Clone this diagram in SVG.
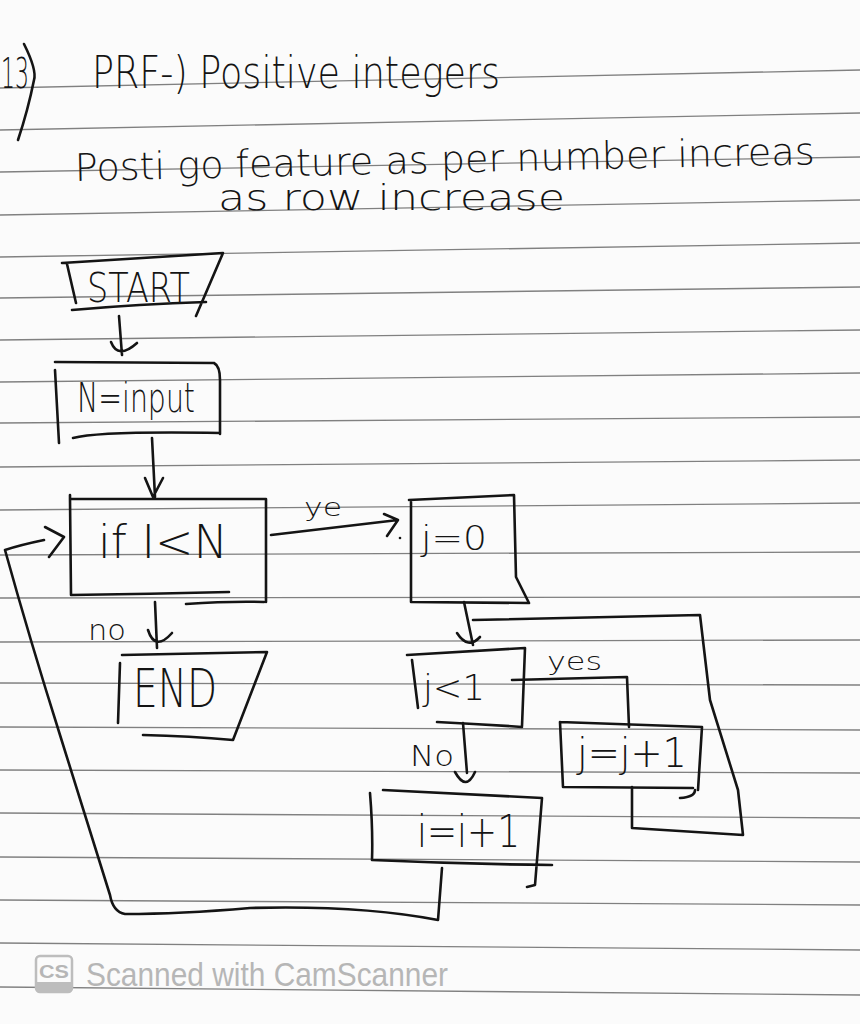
<svg xmlns="http://www.w3.org/2000/svg" width="860" height="1024" viewBox="0 0 860 1024">
<style>
.ink{fill:none;stroke:#141414;stroke-width:2.6;stroke-linecap:round;stroke-linejoin:round}
.rule{stroke:#808080;stroke-width:1.3;fill:none}
.hw{font-family:"DejaVu Sans","Liberation Sans",sans-serif;font-weight:200;fill:#141414}
.wm{font-family:"Liberation Sans","DejaVu Sans",sans-serif;fill:#b6b6b6}
</style>
<rect width="860" height="1024" fill="#fbfbfb"/>
<g id="paper-rules" class="rule">
<line x1="0" y1="88" x2="860" y2="70"/>
<line x1="0" y1="130" x2="860" y2="113"/>
<line x1="0" y1="172" x2="860" y2="157"/>
<line x1="0" y1="215" x2="860" y2="200"/>
<line x1="0" y1="257" x2="860" y2="243"/>
<line x1="0" y1="298" x2="860" y2="287"/>
<line x1="0" y1="340" x2="860" y2="330"/>
<line x1="0" y1="382" x2="860" y2="373"/>
<line x1="0" y1="423" x2="860" y2="417"/>
<line x1="0" y1="467" x2="860" y2="460"/>
<line x1="0" y1="510" x2="860" y2="503"/>
<line x1="0" y1="555" x2="860" y2="552"/>
<line x1="0" y1="598" x2="860" y2="597"/>
<line x1="0" y1="642" x2="860" y2="640"/>
<line x1="0" y1="683" x2="860" y2="685"/>
<line x1="0" y1="727" x2="860" y2="730"/>
<line x1="0" y1="770" x2="860" y2="773"/>
<line x1="0" y1="813" x2="860" y2="818"/>
<line x1="0" y1="857" x2="860" y2="862"/>
<line x1="0" y1="900" x2="860" y2="905"/>
<line x1="0" y1="943" x2="860" y2="950"/>
<line x1="0" y1="987" x2="860" y2="995"/>
</g>
<g id="heading" class="hw">
<text x="1" y="88" font-size="42" textLength="28" lengthAdjust="spacingAndGlyphs">13</text>
<path class="ink" d="M24,44 Q37,70 34,80 Q28,110 18,140"/>
<text x="92" y="88" font-size="44" textLength="408" lengthAdjust="spacingAndGlyphs">PRF-) Positive integers</text>
<text x="75" y="181" font-size="38" textLength="740" lengthAdjust="spacingAndGlyphs" transform="rotate(-1.3 75 181)">Posti go feature as per number increas</text>
<text x="218" y="210" font-size="36" textLength="347" lengthAdjust="spacingAndGlyphs">as row increase</text>
</g>
<g id="start">
<path class="ink" d="M62,263 L223,253 L196,316 M67,264 L76,303 M72,310 Q140,304 206,302"/>
<text class="hw" x="87" y="302" font-size="40" textLength="103" lengthAdjust="spacingAndGlyphs">START</text>
</g>
<g id="n-input">
<path class="ink" d="M55,362 L214,363 Q220,366 220,380 L220,434 M73,438 Q100,431 220,433 M55,370 L59,443"/>
<text class="hw" x="77" y="412" font-size="40" textLength="118" lengthAdjust="spacingAndGlyphs">N=input</text>
</g>
<g id="if-i-lt-n">
<path class="ink" d="M70,495 L70,499 L266,499 L266,602 M70,499 L71,595 Q150,594 229,592 M186,604 Q230,601 264,602"/>
<text class="hw" x="98" y="558" font-size="46" textLength="130" lengthAdjust="spacingAndGlyphs">if I&lt;N</text>
</g>
<g id="j-eq-0">
<path class="ink" d="M409,500 L514,495 L516,577 L529,603 L411,602 L411,502"/>
<text class="hw" x="421" y="550" font-size="34" textLength="66" lengthAdjust="spacingAndGlyphs">j=0</text>
</g>
<g id="end">
<path class="ink" d="M122,655 L267,652 L233,740 M143,735 Q190,736 233,740 M120,663 L118,723"/>
<text class="hw" x="133" y="707" font-size="54" textLength="84" lengthAdjust="spacingAndGlyphs">END</text>
</g>
<g id="j-lt-1">
<path class="ink" d="M407,655 L525,648 L522,726 M437,722 Q480,724 522,727 M412,660 L418,708"/>
<text class="hw" x="423" y="700" font-size="36" textLength="62" lengthAdjust="spacingAndGlyphs">j&lt;1</text>
</g>
<g id="j-inc">
<path class="ink" d="M560,722 L702,727 L698,790 M563,787 L693,788 M560,722 L563,787 M680,798 Q695,797 695,790"/>
<text class="hw" x="577" y="767" font-size="40" textLength="110" lengthAdjust="spacingAndGlyphs">j=j+1</text>
</g>
<g id="i-inc">
<path class="ink" d="M383,790 L542,798 L535,885 L527,887 M372,860 Q460,864 552,865 M370,793 Q373,830 372,860"/>
<text class="hw" x="417" y="847" font-size="44" textLength="103" lengthAdjust="spacingAndGlyphs">i=i+1</text>
</g>
<g id="connectors">
<path class="ink" d="M119,316 L122,355 M111,342 Q118,360 137,343"/>
<path class="ink" d="M152,438 L155,497 M145,478 L153,497 L163,478"/>
<path class="ink" d="M271,535 L398,520 M384,514 L398,520 L387,536"/>
<circle cx="400" cy="538" r="1.3" fill="#141414"/>
<text class="hw" x="304" y="516" font-size="24" textLength="38" lengthAdjust="spacingAndGlyphs">ye</text>
<path class="ink" d="M155,602 L157,648 M148,630 Q155,652 172,633"/>
<text class="hw" x="88" y="640" font-size="28" textLength="38" lengthAdjust="spacingAndGlyphs">no</text>
<path class="ink" d="M464,602 L473,645 M457,633 Q468,650 480,637"/>
<path class="ink" d="M632,787 L632,828 L743,835 L738,790 L710,700 L700,615 L473,620"/>
<path class="ink" d="M512,680 L627,677 L629,727"/>
<text class="hw" x="547" y="670" font-size="24" textLength="55" lengthAdjust="spacingAndGlyphs">yes</text>
<path class="ink" d="M463,723 L467,773 M455,772 Q466,792 475,772"/>
<text class="hw" x="410" y="766" font-size="28" textLength="44" lengthAdjust="spacingAndGlyphs">No</text>
<path class="ink" d="M442,868 L438,920 Q360,905 250,908 Q180,914 125,914 Q113,912 110,895 L60,735 Q30,640 5,550 Q20,545 44,540 M45,527 L64,537 L49,557"/>
</g>
<g id="watermark">
<rect x="36" y="956" width="36" height="36" rx="4" fill="none" stroke="#bdbdbd" stroke-width="2.5"/>
<path d="M36,982 L72,982 L72,988 Q72,992 68,992 L40,992 Q36,992 36,988 Z" fill="#bdbdbd"/>
<text class="wm" x="39" y="978" font-size="19" font-weight="bold" textLength="30" lengthAdjust="spacingAndGlyphs">CS</text>
<text class="wm" x="86" y="986" font-size="34" textLength="362" lengthAdjust="spacingAndGlyphs">Scanned with CamScanner</text>
</g>
</svg>
